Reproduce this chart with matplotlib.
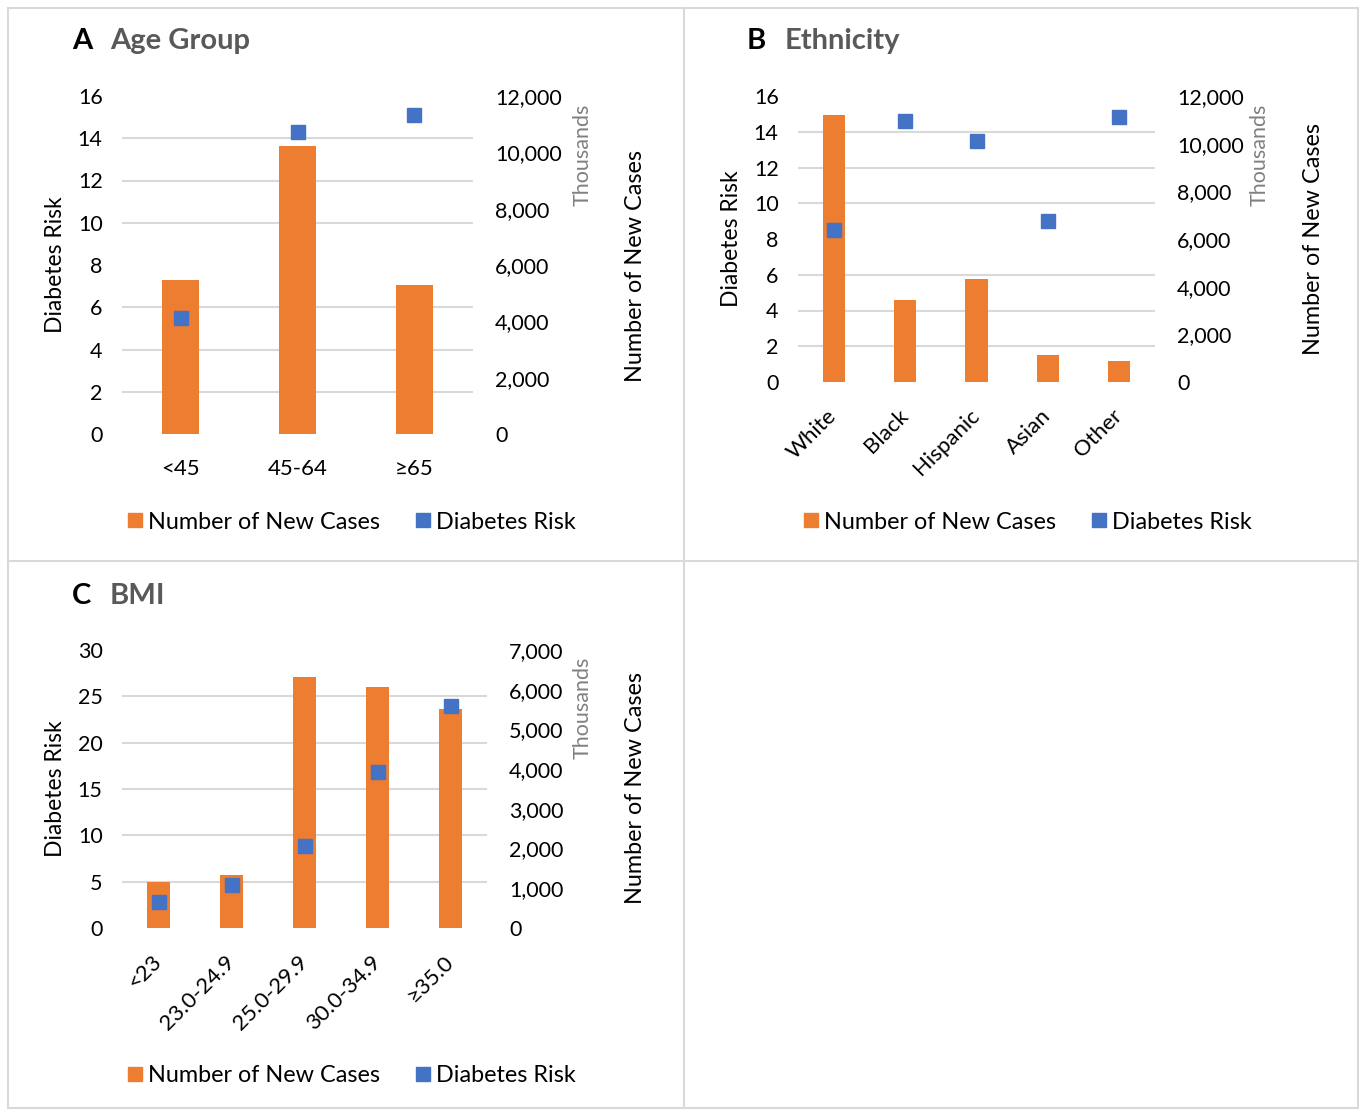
import numpy as np
import matplotlib
matplotlib.use("Agg")
from matplotlib import pyplot as plt
from matplotlib.lines import Line2D
from matplotlib.ticker import FuncFormatter

plt.rcParams['font.family'] = ['Lato', 'DejaVu Sans']

# data (cases in thousands)
age_cats = ['<45', '45-64', '\u226565']
age_cases = [5470, 10230, 5290]
age_risk = [5.5, 14.3, 15.1]

eth_cats = ['White', 'Black', 'Hispanic', 'Asian', 'Other']
eth_cases = [11200, 3440, 4330, 1140, 880]
eth_risk = [8.5, 14.6, 13.5, 9.0, 14.8]

bmi_cats = ['<23', '23.0-24.9', '25.0-29.9', '30.0-34.9', '\u226535.0']
bmi_cases = [1160, 1340, 6320, 6070, 5520]
bmi_risk = [2.8, 4.6, 8.9, 16.8, 24.0]

ORANGE = '#ED7D31'
BLUE = '#4472C4'
GRID = '#d9d9d9'
W, H = 1359, 1110

fig = plt.figure(figsize=(W / 100, H / 100), dpi=100)


def fx(x):
    return x / W


def fy(y):
    return 1 - y / H


def rect(x0, y0, x1, y1):
    return [fx(x0), fy(y1), (x1 - x0) / W, (y1 - y0) / H]


# panel borders
for (xa, ya, xb, yb) in [(8, 8, 1358, 8), (8, 1108, 1358, 1108), (8, 8, 8, 1108),
                         (1358, 8, 1358, 1108), (684, 8, 684, 1108), (8, 561, 1358, 561)]:
    fig.add_artist(Line2D([fx(xa), fx(xb)], [fy(ya), fy(yb)], color=GRID, lw=1.5))


def panel(box, cats, cases, risk, lmax, lstep, rmax, rstep, rot, letter, title,
          title_xy, left_lab_x, thou_xy, right_lab_xy, legend_y):
    x0, y0, x1, y1 = box
    ax = fig.add_axes(rect(*box))
    ax2 = ax.twinx()
    ax.set_zorder(ax2.get_zorder() + 1)
    ax.patch.set_visible(False)

    xs = np.arange(len(cats))
    ax2.bar(xs, cases, width=0.31, color=ORANGE, zorder=2)
    ax.plot(xs, risk, 's', color=BLUE, markersize=10, zorder=3)

    ax.set_xlim(-0.5, len(cats) - 0.5)
    ax.set_ylim(0, lmax)
    ax2.set_ylim(0, rmax)
    ax.set_yticks(np.arange(0, lmax + 0.1, lstep))
    ax2.set_yticks(np.arange(0, rmax + 1, rstep))
    # gridlines follow left ticks, drawn behind the bars
    ax2.set_yticks(np.arange(0, lmax + 0.1, lstep) * rmax / lmax, minor=True)
    ax2.grid(which='minor', axis='y', color=GRID, lw=1.5, zorder=0)
    ax2.tick_params(axis='y', which='minor', length=0)
    ax2.set_axisbelow(True)
    ax2.yaxis.set_major_formatter(FuncFormatter(lambda v, p: f'{int(v):,}'))

    for a in (ax, ax2):
        for s in a.spines.values():
            s.set_visible(False)
    ax.tick_params(axis='y', length=0, pad=14, labelsize=15.5, colors='black')
    ax2.tick_params(axis='y', which='major', length=0, pad=16, labelsize=15.5)
    ax.set_xticks(xs)
    if rot:
        ax.set_xticklabels(cats, rotation=45, ha='right', va='center',
                           rotation_mode='anchor', fontsize=16)
        ax.tick_params(axis='x', length=0, pad=22)
    else:
        ax.set_xticklabels(cats, fontsize=16)
        ax.tick_params(axis='x', length=0, pad=18)

    fig.text(fx(title_xy[0]), fy(title_xy[1]), letter, fontsize=21, fontweight='bold',
             color='black', ha='left', va='center')
    fig.text(fx(title_xy[0] + 38), fy(title_xy[1]), title, fontsize=21, fontweight='bold',
             color='#595959', ha='left', va='center')
    fig.text(fx(left_lab_x), fy((y0 + y1) / 2), 'Diabetes Risk', rotation=90,
             fontsize=16.5, ha='center', va='center')
    fig.text(fx(thou_xy[0]), fy(thou_xy[1]), 'Thousands', rotation=90,
             fontsize=15.5, color='#808080', ha='center', va='center')
    fig.text(fx(right_lab_xy[0]), fy(right_lab_xy[1]), 'Number of New Cases', rotation=90,
             fontsize=16.8, ha='center', va='center')

    handles = [Line2D([], [], marker='s', ls='none', color=ORANGE, markersize=10),
               Line2D([], [], marker='s', ls='none', color=BLUE, markersize=10)]
    fig.legend(handles, ['Number of New Cases', 'Diabetes Risk'], ncol=2, frameon=False,
               loc='center', bbox_to_anchor=(fx(350 + (x0 - 122)), fy(legend_y)),
               fontsize=16.8, handletextpad=0.1, columnspacing=1.4, handlelength=0.9)


panel((122, 96, 473, 434), age_cats, age_cases, age_risk, 16, 2, 12000, 2000, False,
      'A', 'Age Group', (72, 41), 55, (583, 155), (636, 266), 522)
panel((798, 96, 1155, 382), eth_cats, eth_cases, eth_risk, 16, 2, 12000, 2000, True,
      'B', 'Ethnicity', (747, 41), 732, (1260, 155), (1313, 239), 522)
panel((122, 650, 487, 928), bmi_cats, bmi_cases, bmi_risk, 30, 5, 7000, 1000, True,
      'C', 'BMI', (72, 596), 55, (583, 708), (636, 788), 1076)

fig.savefig('out.png', dpi=100)
